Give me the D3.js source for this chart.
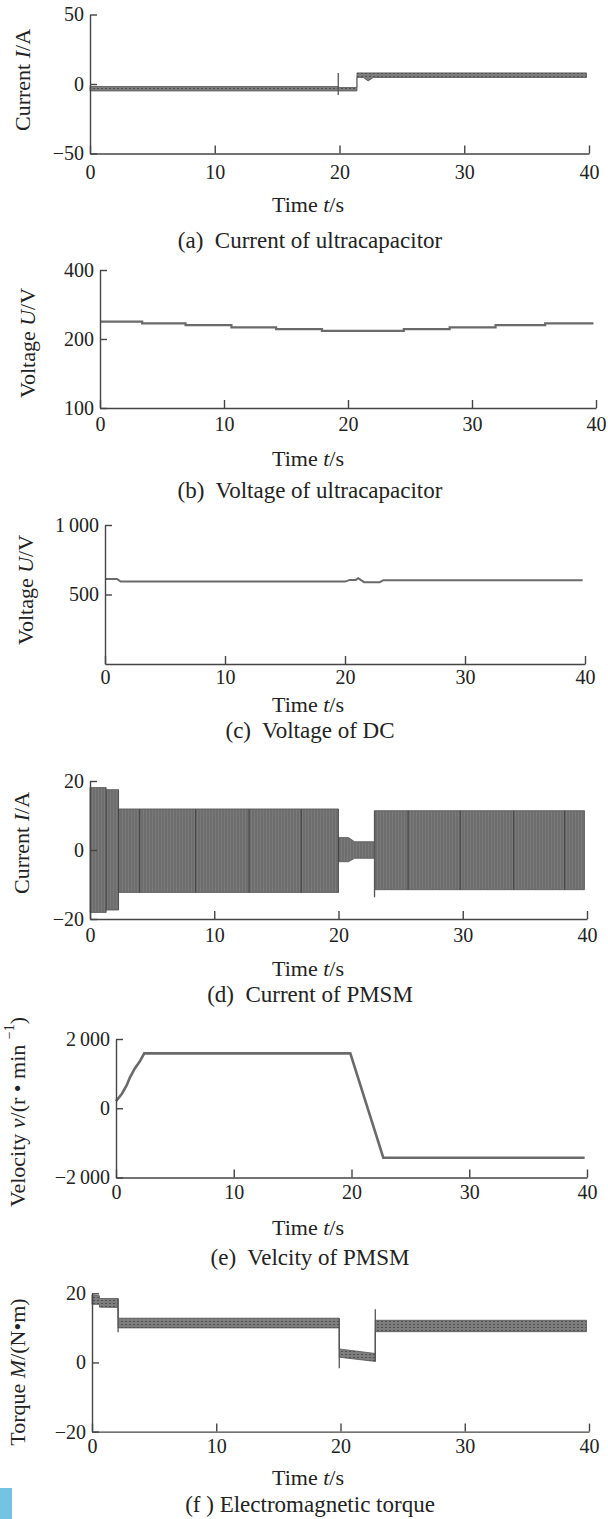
<!DOCTYPE html>
<html>
<head>
<meta charset="utf-8">
<script src="https://cdn.jsdelivr.net/npm/d3@7"></script>
<style>
  body { margin: 0; background: #fff; }
  svg { display: block; font-family: "Liberation Serif", "Times New Roman", serif; }
  .tick text { font-size: 20px; fill: #222; font-family: "Liberation Serif", serif; }
  .domain, .tick line { stroke: #444; stroke-width: 1.4; }
  .lbl { font-size: 22px; fill: #222; white-space: pre; }
  .cap { font-size: 23px; }
</style>
</head>
<body>
<div id="chart"></div>
<script>
const width = 608;
const height = 1519;

const timeTicks = [0, 10, 20, 30, 40];

// (a) current of ultracapacitor (noisy band: upper / lower edge)
const ucCurrentTime  = [0, 19.9, 19.9, 21.4, 21.4, 21.9, 22.3, 22.7, 39.8];
const ucCurrentUpper = [-1.8, -1.8, -2.5, -2.5, 8, 8, 8, 8, 8];
const ucCurrentLower = [-5, -5, -5, -5, 4.7, 4.7, 2.2, 4.7, 4.7];
const ucCurrentSpikes = [[19.9, -8, 8]];
const ucCurrentTicks = [-50, 0, 50];

// (b) voltage of ultracapacitor (step levels)
const ucVoltageTime = [0, 3.4, 6.9, 10.6, 14.2, 17.9, 24.5, 28.2, 31.9, 35.9, 39.8];
const ucVoltage     = [238, 234, 230, 225, 221, 217, 221, 225, 230, 234, 234];
const ucVoltageTicks = [100, 200, 400];

// (c) voltage of DC bus
const dcVoltageTime = [0, 1.0, 1.3, 20, 20.4, 20.9, 21.1, 21.3, 21.6, 22.9, 23.2, 39.8];
const dcVoltage     = [612, 612, 593, 593, 605, 605, 617, 605, 589, 589, 603, 603];
const dcVoltageTicks = [500, 1000];

// (d) current of PMSM (envelope of the oscillation)
const pmsmCurrentTime  = [0, 1.3, 1.3, 2.3, 2.3, 20.0, 20.0, 20.8, 21.3, 22.9, 22.9, 39.8];
const pmsmCurrentUpper = [18.1, 18.1, 17.5, 17.5, 11.9, 11.9, 3.6, 3.6, 2.4, 2.4, 11.4, 11.4];
const pmsmCurrentLower = [-18.1, -18.1, -17.4, -17.4, -12.3, -12.3, -3.4, -3.4, -2.4, -2.4, -11.5, -11.5];
const pmsmCurrentSpikes = [[22.9, -13.7, 11.4]];
const pmsmSeams = [1.3, 2.3, 4.0, 8.5, 12.8, 17.0, 20.0, 25.6, 29.8, 34.1, 38.2];
const pmsmCurrentTicks = [-20, 0, 20];

// (e) velocity of PMSM
const velocityTime = [0, 0.5, 0.9, 1.2, 1.6, 2.0, 2.4, 19.9, 22.7, 39.8];
const velocity     = [200, 420, 660, 900, 1150, 1340, 1585, 1585, -1430, -1430];
const velocityTicks = [-2000, 0, 2000];

// (f) electromagnetic torque (band)
const torqueTime  = [0, 0.6, 0.6, 2.1, 2.1, 19.9, 19.9, 22.8, 22.8, 39.8];
const torqueUpper = [19.5, 19.3, 18.5, 18.5, 12.8, 12.8, 3.9, 2.6, 12.2, 12.2];
const torqueLower = [16.8, 16.8, 16.0, 15.9, 10.0, 10.0, 1.5, 0.3, 8.9, 8.9];
const torqueSpikes = [[2.1, 8.7, 18.5], [19.9, -1.7, 12.8], [22.8, 0.3, 15.4]];
const torqueTicks = [-20, 0, 20];

const svg = d3.select("#chart")
    .append("svg")
    .attr("width", width)
    .attr("height", height);

const defs = svg.append("defs");
const stripes = defs.append("pattern")
    .attr("id", "stripes")
    .attr("patternUnits", "userSpaceOnUse")
    .attr("width", 3).attr("height", 10);
stripes.append("rect").attr("width", 3).attr("height", 10).attr("fill", "#7a7a7a");
stripes.append("line").attr("x1", 1).attr("x2", 1).attr("y1", 0).attr("y2", 10)
    .attr("stroke", "#626262").attr("stroke-width", 1);

const grain = defs.append("pattern")
    .attr("id", "grain")
    .attr("patternUnits", "userSpaceOnUse")
    .attr("width", 4).attr("height", 3);
grain.append("rect").attr("width", 4).attr("height", 3).attr("fill", "#7e7e7e");
grain.append("rect").attr("x", 1).attr("y", 1).attr("width", 2).attr("height", 1).attr("fill", "#505050");

const thousands = d => d3.format(",")(d).replace(/,/g, "\u2009");

function label(g, x, y, parts, rotate, cls) {
    const t = g.append("text")
        .attr("class", cls ? "lbl " + cls : "lbl")
        .attr("text-anchor", "middle")
        .attr("dominant-baseline", "central")
        .attr("transform", rotate ? `translate(${x},${y}) rotate(-90)` : `translate(${x},${y})`);
    parts.forEach(p => {
        const s = t.append("tspan").text(p.s);
        if (p.i) s.attr("font-style", "italic");
        if (p.sup) s.attr("baseline-shift", "super").attr("font-size", "14px");
    });
    return t;
}

function panel(p) {
    const x = d3.scaleLinear().domain([0, 40]).range([p.left, p.right]);
    const y = (p.log ? d3.scaleLog() : d3.scaleLinear()).domain(p.domain).range([p.bottom, p.top]);
    const g = svg.append("g");

    // data first, axes on top
    if (p.band) {
        const rows = p.band.t.map((t, i) => ({t: t, hi: p.band.hi[i], lo: p.band.lo[i]}));
        const area = d3.area().x(d => x(d.t)).y0(d => y(d.lo)).y1(d => y(d.hi));
        g.append("path")
            .attr("d", area(rows))
            .attr("fill", `url(#${p.band.fill})`)
            .attr("stroke", "#555")
            .attr("stroke-width", 0.8);
        if (p.band.seams) {
            const cid = "clip-" + p.id;
            defs.append("clipPath").attr("id", cid).append("path").attr("d", area(rows));
            g.append("g").attr("clip-path", `url(#${cid})`)
                .selectAll("line").data(p.band.seams).join("line")
                .attr("x1", d => x(d)).attr("x2", d => x(d))
                .attr("y1", p.top).attr("y2", p.bottom)
                .attr("stroke", "#444").attr("stroke-width", 1.1);
        }
        g.selectAll(".spike").data(p.band.spikes || []).join("line")
            .attr("class", "spike")
            .attr("x1", d => x(d[0])).attr("x2", d => x(d[0]))
            .attr("y1", d => y(d[1])).attr("y2", d => y(d[2]))
            .attr("stroke", "#555").attr("stroke-width", 1.3);
    }
    if (p.line) {
        const rows = p.line.t.map((t, i) => ({t: t, v: p.line.v[i]}));
        g.append("path")
            .attr("d", d3.line().x(d => x(d.t)).y(d => y(d.v)).curve(p.line.curve || d3.curveLinear)(rows))
            .attr("fill", "none")
            .attr("stroke", "#6a6a6a")
            .attr("stroke-width", p.line.w || 2);
    }

    g.append("g")
        .attr("transform", `translate(0,${p.bottom})`)
        .call(d3.axisBottom(x).tickValues(timeTicks).tickSizeInner(-8).tickSizeOuter(0)
            .tickPadding(p.xPad).tickFormat(d3.format("d")));
    g.append("g")
        .attr("transform", `translate(${p.left},0)`)
        .call(d3.axisLeft(y).tickValues(p.yTicks).tickSizeInner(-7).tickSizeOuter(0)
            .tickPadding(6).tickFormat(p.yFormat || d3.format("d")));

    label(g, 308, p.timeY, [{s: "Time "}, {s: "t", i: true}, {s: "/s"}]);
    label(g, 310, p.capY, [{s: p.caption}], false, "cap");
    label(g, p.yLabX, p.yLabY, p.yLabel, true);
}

panel({
    id: "a", left: 90, right: 589, top: 14.5, bottom: 153.5, domain: [-50, 50],
    yTicks: ucCurrentTicks, xPad: 11, timeY: 204, capY: 240,
    yLabX: 22, yLabY: 80, yLabel: [{s: "Current "}, {s: "I", i: true}, {s: "/A"}],
    caption: "(a)  Current of ultracapacitor",
    band: {t: ucCurrentTime, hi: ucCurrentUpper, lo: ucCurrentLower, spikes: ucCurrentSpikes, fill: "grain"}
});

panel({
    id: "b", left: 100, right: 596, top: 270, bottom: 408, domain: [100, 400], log: true,
    yTicks: ucVoltageTicks, xPad: 9, timeY: 458, capY: 490,
    yLabX: 27, yLabY: 343, yLabel: [{s: "Voltage "}, {s: "U", i: true}, {s: "/V"}],
    caption: "(b)  Voltage of ultracapacitor",
    line: {t: ucVoltageTime, v: ucVoltage, curve: d3.curveStepAfter, w: 2.2}
});

panel({
    id: "c", left: 105, right: 585, top: 525, bottom: 664, domain: [0, 1000],
    yTicks: dcVoltageTicks, yFormat: thousands, xPad: 6, timeY: 704, capY: 730,
    yLabX: 25, yLabY: 590, yLabel: [{s: "Voltage "}, {s: "U", i: true}, {s: "/V"}],
    caption: "(c)  Voltage of DC",
    line: {t: dcVoltageTime, v: dcVoltage, w: 2}
});

panel({
    id: "d", left: 90, right: 587, top: 781, bottom: 919, domain: [-20, 20],
    yTicks: pmsmCurrentTicks, xPad: 9, timeY: 968, capY: 994,
    yLabX: 21, yLabY: 843, yLabel: [{s: "Current "}, {s: "I", i: true}, {s: "/A"}],
    caption: "(d)  Current of PMSM",
    band: {t: pmsmCurrentTime, hi: pmsmCurrentUpper, lo: pmsmCurrentLower,
           spikes: pmsmCurrentSpikes, seams: pmsmSeams, fill: "stripes"}
});

panel({
    id: "e", left: 116, right: 587, top: 1039, bottom: 1177.5, domain: [-2000, 2000],
    yTicks: velocityTicks, yFormat: thousands, xPad: 7, timeY: 1227, capY: 1257,
    yLabX: 17, yLabY: 1112,
    yLabel: [{s: "Velocity "}, {s: "v", i: true}, {s: "/(r \u2022 min "}, {s: "\u22121", sup: true}, {s: ")"}],
    caption: "(e)  Velcity of PMSM",
    line: {t: velocityTime, v: velocity, w: 2.6}
});

panel({
    id: "f", left: 92, right: 589, top: 1293.3, bottom: 1431.6, domain: [-20, 20],
    yTicks: torqueTicks, xPad: 7, timeY: 1477, capY: 1504,
    yLabX: 17, yLabY: 1372, yLabel: [{s: "Torque "}, {s: "M", i: true}, {s: "/(N\u2022m)"}],
    caption: "(f ) Electromagnetic torque",
    band: {t: torqueTime, hi: torqueUpper, lo: torqueLower, spikes: torqueSpikes, fill: "grain"}
});

// small blue mark in the lower-left corner of the page
svg.append("rect")
    .attr("x", 0).attr("y", 1488)
    .attr("width", 12).attr("height", 31)
    .attr("fill", "#74c3e2");
</script>
</body>
</html>
